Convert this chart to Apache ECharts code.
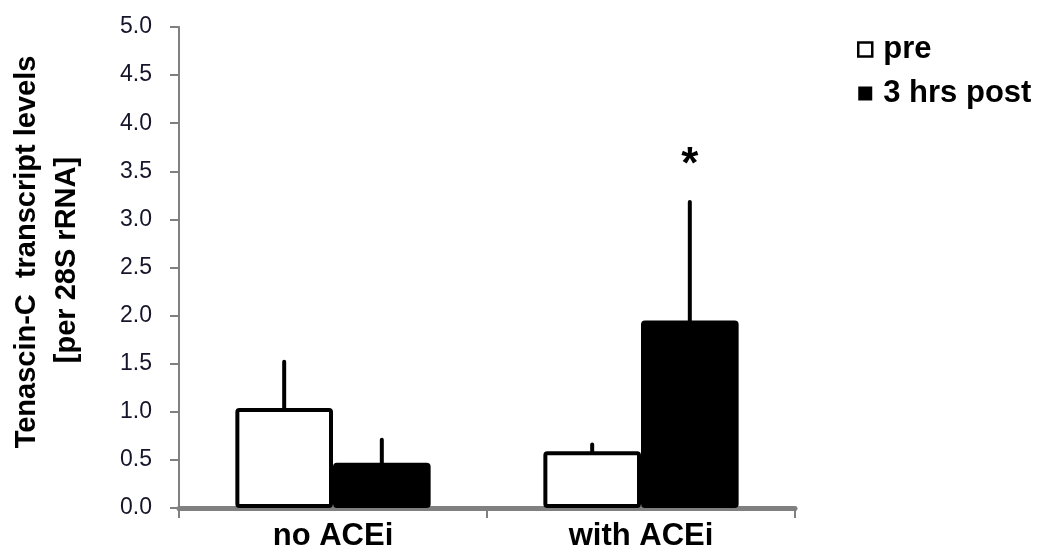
<!DOCTYPE html>
<html><head><meta charset="utf-8">
<script src="https://cdn.jsdelivr.net/npm/echarts@6/dist/echarts.min.js"></script>
<style>html,body{margin:0;padding:0;background:#fff}#c{width:1045px;height:554px}</style>
</head><body><div id="c"></div>
<script>
const categories = ['no ACEi', 'with ACEi'];
const preValues = [1.04, 0.59];
const preErrors = [0.48, 0.07];
const postValues = [0.47, 1.95];
const postErrors = [0.24, 1.23];
const postAnnotations = ['', '*'];
const yTicks = [0, 0.5, 1, 1.5, 2, 2.5, 3, 3.5, 4, 4.5, 5];
const seriesNames = ['pre', '3 hrs post'];
const yTitleLines = ['Tenascin-C  transcript levels', '[per 28S rRNA]'];

const FONT = 'Liberation Sans, Arial, sans-serif';
const BAR_FRAC = 0.317;
const errData = [];
categories.forEach((c, i) => {
  errData.push([i, preValues[i], preErrors[i], 0, '']);
  errData.push([i, postValues[i], postErrors[i], 1, postAnnotations[i]]);
});

const chart = echarts.init(document.getElementById('c'));
chart.setOption({
  animation: false,
  backgroundColor: '#fff',
  grid: { left: 179, right: 250, top: 27, bottom: 46 },
  legend: {
    orient: 'vertical', left: 852, top: 29, itemWidth: 14, itemHeight: 14, itemGap: 13,
    icon: 'rect',
    textStyle: { fontFamily: FONT, fontWeight: 'bold', fontSize: 31, color: '#000', padding: [0, 0, 0, 6] },
    data: [
      { name: seriesNames[0], itemStyle: { color: '#fff', borderColor: '#000', borderWidth: 2.5 } },
      { name: seriesNames[1], itemStyle: { color: '#000', borderColor: '#000', borderWidth: 0 } }
    ]
  },
  xAxis: {
    type: 'category', data: categories,
    axisLine: { lineStyle: { color: '#808080', width: 5 } },
    axisTick: { show: true, length: 10, lineStyle: { color: '#808080', width: 2 } },
    axisLabel: { color: '#000', fontFamily: FONT, fontWeight: 'bold', fontSize: 31, margin: 13 }
  },
  yAxis: {
    type: 'value', min: 0, max: 5, interval: 0.5,
    axisLine: { show: true, lineStyle: { color: '#808080', width: 2 } },
    axisTick: { show: true, length: 9, lineStyle: { color: '#808080', width: 2 } },
    splitLine: { show: false },
    axisLabel: { color: '#15152a', fontFamily: FONT, fontSize: 23, margin: 27,
      formatter: v => yTicks.includes(v) ? v.toFixed(1) : '' }
  },
  graphic: [
    { type: 'text', x: 27, y: 252, rotation: Math.PI / 2,
      style: { text: yTitleLines[0], fontFamily: FONT, fontWeight: 'bold', fontSize: 29, fill: '#000', align: 'center', verticalAlign: 'middle' } },
    { type: 'text', x: 67, y: 260, rotation: Math.PI / 2,
      style: { text: yTitleLines[1], fontFamily: FONT, fontWeight: 'bold', fontSize: 29, fill: '#000', align: 'center', verticalAlign: 'middle' } }
  ],
  series: [
    { name: seriesNames[0], type: 'bar', data: preValues, barWidth: (BAR_FRAC * 100) + '%', barGap: '0%',
      itemStyle: { color: '#fff', borderColor: '#000', borderWidth: 4, borderRadius: 2 }, z: 3 },
    { name: seriesNames[1], type: 'bar', data: postValues, barWidth: (BAR_FRAC * 100) + '%', barGap: '0%',
      itemStyle: { color: '#000', borderColor: '#000', borderWidth: 4, borderRadius: 2 }, z: 3 },
    { type: 'custom', data: errData, z: 2,
      renderItem: function (params, api) {
        const cat = api.value(0), v = api.value(1), e = api.value(2), s = api.value(3);
        const band = api.size([1, 0])[0];
        const off = (s === 0 ? -1 : 1) * band * BAR_FRAC / 2;
        const p0 = api.coord([cat, v]);
        const p1 = api.coord([cat, v + e]);
        const children = [{ type: 'line', shape: { x1: p0[0] + off, y1: p0[1], x2: p1[0] + off, y2: p1[1] },
          style: { stroke: '#000', lineWidth: 4, lineCap: 'round' } }];
        const ann = errData[params.dataIndex][4];
        if (ann) children.push({ type: 'text', x: p1[0] + off, y: p1[1] - 36,
          style: { text: ann, fontFamily: FONT, fontWeight: 'bold', fontSize: 44, fill: '#000', align: 'center', verticalAlign: 'middle' } });
        return { type: 'group', children };
      } }
  ]
});
</script></body></html>
